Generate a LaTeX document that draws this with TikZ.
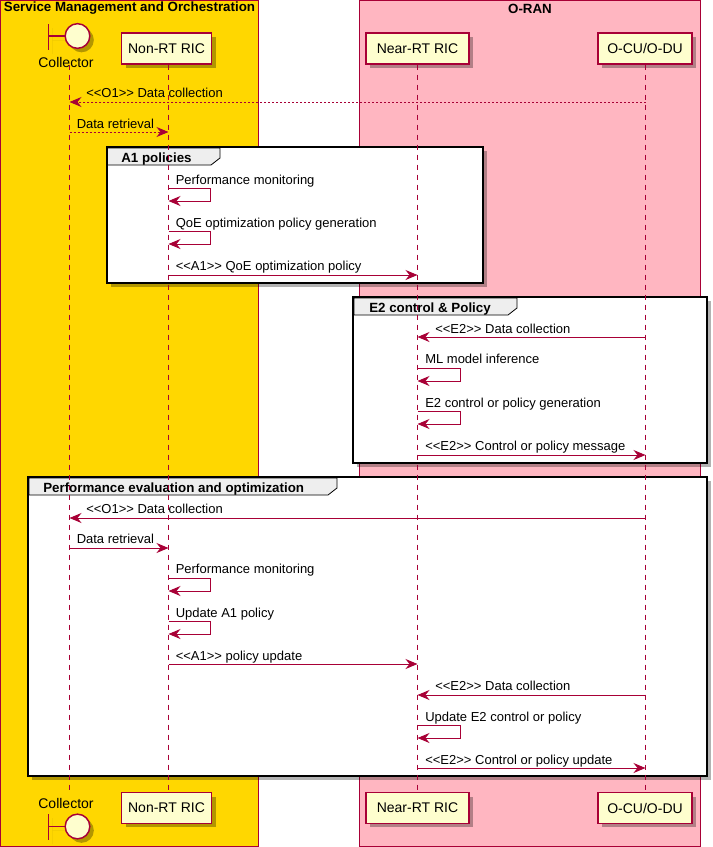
\documentclass[tikz,border=0pt]{standalone}
\usepackage{fontspec}
\setmainfont{Liberation Sans}
\usepackage{xcolor}
\usetikzlibrary{calc,arrows.meta,shadows}
\definecolor{umlred}{HTML}{A80036}
\definecolor{umlfill}{HTML}{FEFECE}
\definecolor{umlgold}{HTML}{FFD700}
\definecolor{umlpink}{HTML}{FFB6C1}
\definecolor{umltab}{HTML}{EEEEEE}
\newcommand{\stereo}[1]{<{}<#1>{}>}
\tikzset{
  shade3/.style={drop shadow={shadow xshift=3pt,shadow yshift=-3pt,opacity=.3,fill=black}},
  umlbox/.style={draw=umlred,line width=.75pt},
  part/.style={draw=umlred,line width=1.1pt,fill=umlfill,shade3,inner sep=0pt,minimum height=23pt,font=\fontsize{10.5}{12}\selectfont},
  partlabel/.style={inner sep=0pt,font=\fontsize{10.5}{12}\selectfont},
  lifeline/.style={draw=umlred,line width=.75pt,dash pattern=on 3.75pt off 3.75pt},
  msg/.style={draw=umlred,line width=.75pt,-{Stealth[length=9pt,width=7.5pt,inset=3pt]}},
  msgback/.style={msg,dash pattern=on 1.5pt off 1.5pt},
  msglabel/.style={anchor=base west,inner sep=0pt,font=\fontsize{9.75}{12}\selectfont},
  frame/.style={draw=black,line width=1.9pt,fill=white,shade3},
  tab/.style={draw=black,line width=.6pt,fill=umltab},
  title/.style={inner sep=0pt,font=\fontsize{10}{12}\selectfont\bfseries},
}
\begin{document}
\begin{tikzpicture}[x=.75pt,y=-.75pt]
\useasboundingbox (0,0) rectangle (713,847);

% Boxes
\fill[umlgold] (.5,.5) rectangle (258.5,846);
\fill[umlpink] (359.5,.5) rectangle (700.5,846);
\draw[umlbox] (.5,0) rectangle (258.5,846);
\draw[umlbox] (359.5,0) rectangle (700.5,846);
\node[title] (smotitle) at (129.5,8.5) {Service Management and Orchestration};
\node[title] (orantitle) at (530,8.5) {O-RAN};

% Groups
\draw[frame] (107,147) rectangle (483,283);
\draw[frame] (353,297) rectangle (707,463);
\draw[frame] (28,477) rectangle (707,776);
\draw[tab] (107.5,148) -- (220,148) -- (220,158) -- (211,165) -- (107.5,165) -- cycle;
\draw[tab] (354,298) -- (517,298) -- (517,308) -- (508,315) -- (354,315) -- cycle;
\draw[tab] (29,478) -- (337,478) -- (337,488) -- (328,495) -- (29,495) -- cycle;
\node[title,anchor=base west] (a1title) at (121,162) {A1 policies};
\node[title,anchor=base west] (e2title) at (369,312) {E2 control \& Policy};
\node[title,anchor=base west] (evaltitle) at (43,492) {Performance evaluation and optimization};

% Participants, top and bottom
\foreach \name/\x/\w/\txt in {nonrt/166.5/90/{Non-RT RIC},nearrt/417.5/103/{Near-RT RIC},ocu/645/94/{O-CU/O-DU}} {
    \node[part,minimum width=\w*.75pt] (\name top) at (\x,48.5) {\txt};
    \node[part,minimum width=\w*.75pt] (\name bot) at (\x,808) {\txt};
}

% Collector
\node[partlabel] (coltop) at (66,62) {Collector};
\node[partlabel] (colbot) at (66,803) {Collector};
\coordinate (barAa) at (48.5,24);
\coordinate (barAb) at (48.5,50);
\coordinate (barAc) at (48.5,36);
\coordinate (barBa) at (48.5,814);
\coordinate (barBb) at (48.5,840);
\coordinate (barBc) at (48.5,826.5);
\draw[umlbox,line width=1.1pt,shade3] (barAa) -- (barAb);
\draw[umlbox,line width=1.1pt,shade3] (barBa) -- (barBb);
\draw[umlbox,line width=1.1pt,shade3] (barAc) -- (77.5,36);
\draw[umlbox,line width=1.1pt,shade3] (barBc) -- (77.5,826.5);
\node[circle,draw=umlred,line width=1.1pt,fill=umlfill,shade3,minimum size=18.5pt,inner sep=0pt] (headA) at (77.5,36) {};
\node[circle,draw=umlred,line width=1.1pt,fill=umlfill,shade3,minimum size=18.5pt,inner sep=0pt] (headB) at (77.5,826.5) {};

% Lifelines
\foreach \name/\x in {col/69.5,non/168.5,near/417.5,ocu/645.5} {
    \coordinate (\name start) at (\x,64.5);
    \coordinate (\name end) at (\x,792);
    \draw[lifeline] (\name start) -- (\name end);
}

% Anchor points of the messages
\foreach \y in {102,132,188,201,231,244,275,337,368,381,411,424,455,518,548,578,591,621,634,664,695,725,738,768} {
    \coordinate (col\y) at (69.5,\y);
    \coordinate (non\y) at (168.5,\y);
    \coordinate (near\y) at (417.5,\y);
    \coordinate (ocu\y) at (645.5,\y);
}

% Messages before the groups
\draw[msgback] (ocu102) -- (col102);
\node[msglabel] (l1) at (86,97) {\stereo{O1} Data collection};
\draw[msgback] (col132) -- (non132);
\node[msglabel] (l2) at (76.5,128) {Data retrieval};

% A1 policies
\draw[msg] (non188) -- ++(42,0) -- ++(0,13) -- (non201);
\node[msglabel] (l3) at (175.5,184) {Performance monitoring};
\draw[msg] (non231) -- ++(42,0) -- ++(0,13) -- (non244);
\node[msglabel] (l4) at (175.5,227) {QoE optimization policy generation};
\draw[msg] (non275) -- (near275);
\node[msglabel] (l5) at (175.5,270) {\stereo{A1} QoE optimization policy};

% E2 control
\draw[msg] (ocu337) -- (near337);
\node[msglabel] (l6) at (435,333) {\stereo{E2} Data collection};
\draw[msg] (near368) -- ++(43,0) -- ++(0,13) -- (near381);
\node[msglabel] (l7) at (425,363) {ML model inference};
\draw[msg] (near411) -- ++(43,0) -- ++(0,13) -- (near424);
\node[msglabel] (l8) at (425,407) {E2 control or policy generation};
\draw[msg] (near455) -- (ocu455);
\node[msglabel] (l9) at (425,450) {\stereo{E2} Control or policy message};

% Performance evaluation
\draw[msg] (ocu518) -- (col518);
\node[msglabel] (l10) at (86,513) {\stereo{O1} Data collection};
\draw[msg] (col548) -- (non548);
\node[msglabel] (l11) at (76.5,543) {Data retrieval};
\draw[msg] (non578) -- ++(42,0) -- ++(0,13) -- (non591);
\node[msglabel] (l12) at (175.5,573) {Performance monitoring};
\draw[msg] (non621) -- ++(42,0) -- ++(0,13) -- (non634);
\node[msglabel] (l13) at (175.5,617) {Update A1 policy};
\draw[msg] (non664) -- (near664);
\node[msglabel] (l14) at (175.5,660) {\stereo{A1} policy update};
\draw[msg] (ocu695) -- (near695);
\node[msglabel] (l15) at (435,690) {\stereo{E2} Data collection};
\draw[msg] (near725) -- ++(43,0) -- ++(0,13) -- (near738);
\node[msglabel] (l16) at (425,721) {Update E2 control or policy};
\draw[msg] (near768) -- (ocu768);
\node[msglabel] (l17) at (425,764) {\stereo{E2} Control or policy update};
\end{tikzpicture}
\end{document}
